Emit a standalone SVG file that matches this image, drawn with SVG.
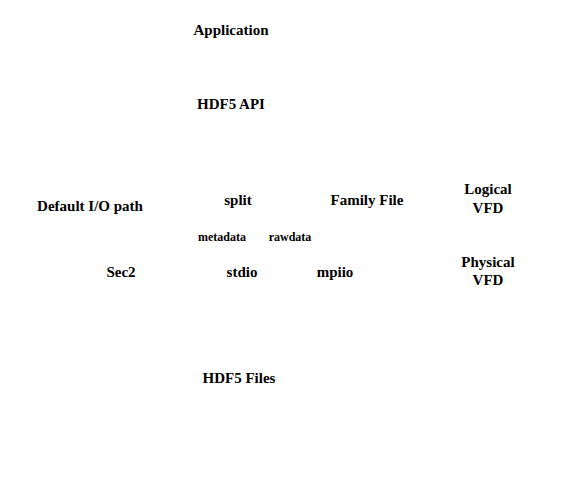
<svg xmlns="http://www.w3.org/2000/svg" width="576" height="504" viewBox="0 0 576 504">
<style>
text{font-family:"Liberation Serif","Times New Roman",serif;font-weight:bold;fill:#000;text-anchor:middle}
.l{font-size:15px}
.s{font-size:12px}
</style>
<rect width="576" height="504" fill="#fff"/>
<g id="application"><text class="l" x="231" y="35">Application</text></g>
<g id="hdf5api"><text class="l" x="231" y="109">HDF5 API</text></g>
<g id="default"><text class="l" x="90" y="211">Default I/O path</text></g>
<g id="split"><text class="l" x="238" y="205">split</text></g>
<g id="family"><text class="l" x="367" y="205">Family File</text></g>
<g id="logical"><text class="l" x="488" y="194">Logical</text><text class="l" x="488" y="213">VFD</text></g>
<g id="metadata"><text class="s" x="222" y="241">metadata</text></g>
<g id="rawdata"><text class="s" x="290" y="241">rawdata</text></g>
<g id="sec2"><text class="l" x="121" y="277">Sec2</text></g>
<g id="stdio"><text class="l" x="242" y="277">stdio</text></g>
<g id="mpiio"><text class="l" x="335" y="277">mpiio</text></g>
<g id="physical"><text class="l" x="488" y="267">Physical</text><text class="l" x="488" y="285">VFD</text></g>
<g id="files"><text class="l" x="239" y="383">HDF5 Files</text></g>
<g id="connectors"></g>
</svg>
